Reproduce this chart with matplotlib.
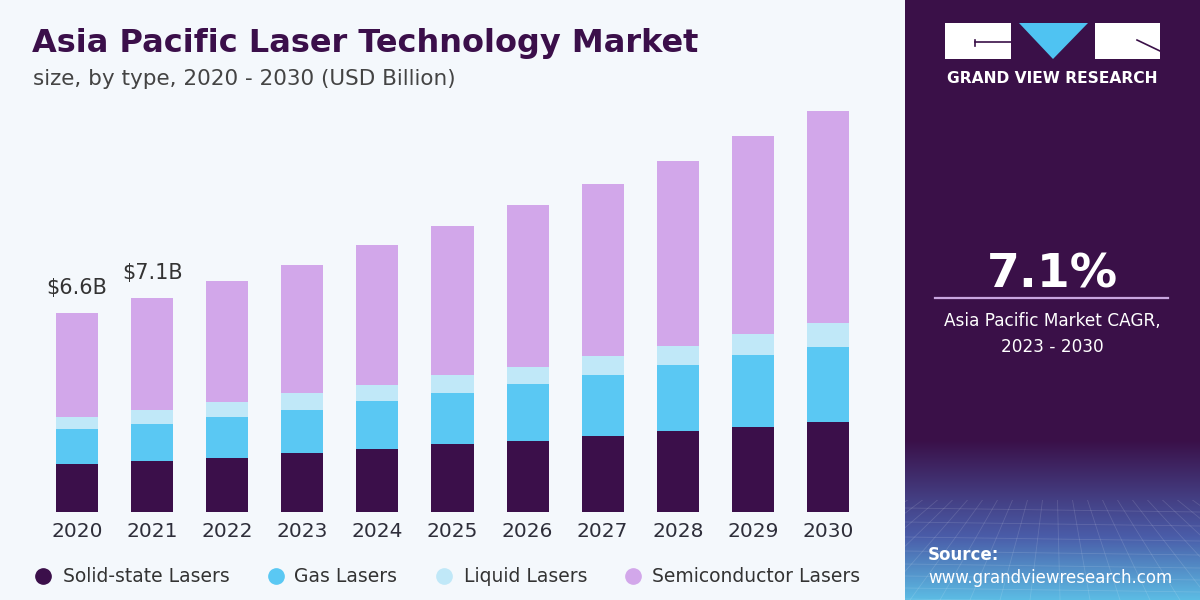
import numpy as np
import matplotlib.pyplot as plt
from matplotlib.patches import Rectangle, Polygon

plt.rcParams['font.family'] = ['DejaVu Sans']

years = ['2020', '2021', '2022', '2023', '2024', '2025', '2026', '2027', '2028', '2029', '2030']
solid_state = [1.59, 1.69, 1.79, 1.96, 2.09, 2.26, 2.36, 2.52, 2.69, 2.82, 2.99]
gas = [1.16, 1.23, 1.36, 1.43, 1.59, 1.69, 1.89, 2.02, 2.19, 2.39, 2.49]
liquid = [0.40, 0.45, 0.50, 0.56, 0.53, 0.60, 0.56, 0.63, 0.63, 0.69, 0.79]
semiconductor = [3.45, 3.73, 4.01, 4.24, 4.64, 4.94, 5.37, 5.71, 6.14, 6.57, 7.03]
series_names = ['Solid-state Lasers', 'Gas Lasers', 'Liquid Lasers', 'Semiconductor Lasers']
colors = ['#3b0f4a', '#5ac8f3', '#c0e8f8', '#d2a7ea']
value_labels = {0: '$6.6B', 1: '$7.1B'}

fig = plt.figure(figsize=(12, 6), dpi=100, facecolor='#f4f8fc')

# background / decoration layer in pixel coords
bg = fig.add_axes([0, 0, 1, 1], zorder=0)
bg.set_xlim(0, 1200)
bg.set_ylim(600, 0)
bg.axis('off')

bg.add_patch(Rectangle((905, 0), 295, 600, color='#3a1048', lw=0))

# bottom gradient of the right panel
top_c = np.array([0x3a, 0x10, 0x48]) / 255
mid_c = np.array([0x4a, 0x5c, 0xa8]) / 255
bot_c = np.array([0x5c, 0xbc, 0xe4]) / 255
t = np.linspace(0, 1, 200)[:, None]
grad = np.where(t < 0.6, top_c + (mid_c - top_c) * (t / 0.6),
                mid_c + (bot_c - mid_c) * ((t - 0.6) / 0.4))
grad = np.repeat(grad[:, None, :], 2, axis=1)
bg.imshow(grad, extent=(905, 1200, 600, 440), aspect='auto', origin='upper', zorder=1)

# faint perspective grid
clip = Rectangle((905, 500), 295, 100, transform=bg.transData)
for yy in [508, 522, 537, 551, 564, 576, 588, 599]:
    ln, = bg.plot([905, 1200], [yy, yy + 4], color='white', lw=0.6, alpha=0.13, zorder=2)
    ln.set_clip_path(clip)
for xb in np.arange(700, 1420, 30):
    ln, = bg.plot([1055, xb], [400, 600], color='white', lw=0.6, alpha=0.13, zorder=2)
    ln.set_clip_path(clip)
bg.set_xlim(0, 1200)
bg.set_ylim(600, 0)

# logo
bg.add_patch(Rectangle((945, 23), 66, 36, color='white', lw=0, zorder=3))
bg.add_patch(Polygon([(1019, 23), (1088, 23), (1053, 59)], closed=True, color='#4fc3f2', lw=0, zorder=3))
bg.add_patch(Rectangle((1095, 23), 65, 36, color='white', lw=0, zorder=3))
bg.plot([975, 1011], [42, 42], color='#3a1048', lw=1.2, zorder=4)
bg.plot([975, 975], [40, 46], color='#3a1048', lw=1.2, zorder=4)
bg.plot([1137, 1160], [40, 51], color='#3a1048', lw=1.2, zorder=4)
bg.text(1052.5, 83, 'GRAND VIEW RESEARCH', color='white', fontsize=11.2, fontweight='bold',
        ha='center', va='baseline', zorder=4)

# CAGR block
bg.text(1052, 288, '7.1%', color='white', fontsize=34, fontweight='bold', ha='center', va='baseline', zorder=4)
bg.plot([935, 1168], [298, 298], color='#c9a6e0', lw=1.6, zorder=4)
bg.text(1052, 326, 'Asia Pacific Market CAGR,', color='white', fontsize=12.2, ha='center', va='baseline', zorder=4)
bg.text(1052, 352, '2023 - 2030', color='white', fontsize=12.2, ha='center', va='baseline', zorder=4)

# source
bg.text(928, 560, 'Source:', color='white', fontsize=12, fontweight='bold', va='baseline', zorder=4)
bg.text(928, 583, 'www.grandviewresearch.com', color='white', fontsize=12, va='baseline', zorder=4)

# title
bg.text(32, 52, 'Asia Pacific Laser Technology Market', color='#3b0f4a', fontsize=23,
        fontweight='heavy', va='baseline')
bg.text(33, 85, 'size, by type, 2020 - 2030 (USD Billion)', color='#444444', fontsize=15.5, va='baseline')

# legend
legend_marker_x = [43, 276, 444, 633]
legend_text_x = [63, 294, 464, 652]
for name, c, mx, tx in zip(series_names, colors, legend_marker_x, legend_text_x):
    bg.plot([mx], [576], marker='o', markersize=11, color=c, zorder=4)
    bg.text(tx, 576, name, color='#333333', fontsize=13.5, va='center', zorder=4)

# chart
ax = fig.add_axes([39.5 / 1200, 88 / 600, 826 / 1200, 422 / 600], zorder=2)
ax.patch.set_alpha(0)
x = np.arange(len(years))
bottom = np.zeros(len(years))
for vals, c in zip([solid_state, gas, liquid, semiconductor], colors):
    ax.bar(x, vals, width=0.56, bottom=bottom, color=c, lw=0)
    bottom += np.array(vals)

for i, lab in value_labels.items():
    ax.annotate(lab, (x[i], bottom[i]), xytext=(0, 11), textcoords='offset points',
                ha='center', va='bottom', fontsize=15, color='#333333')

ax.set_xlim(-0.5, 10.5)
ax.set_ylim(0, 14)
ax.set_xticks(x)
ax.set_xticklabels(years, fontsize=14.5, color='#2e2e3a')
ax.tick_params(axis='x', length=0, pad=7.5)
ax.set_yticks([])
for s in ax.spines.values():
    s.set_visible(False)

fig.savefig('out.png', dpi=100, facecolor=fig.get_facecolor())
